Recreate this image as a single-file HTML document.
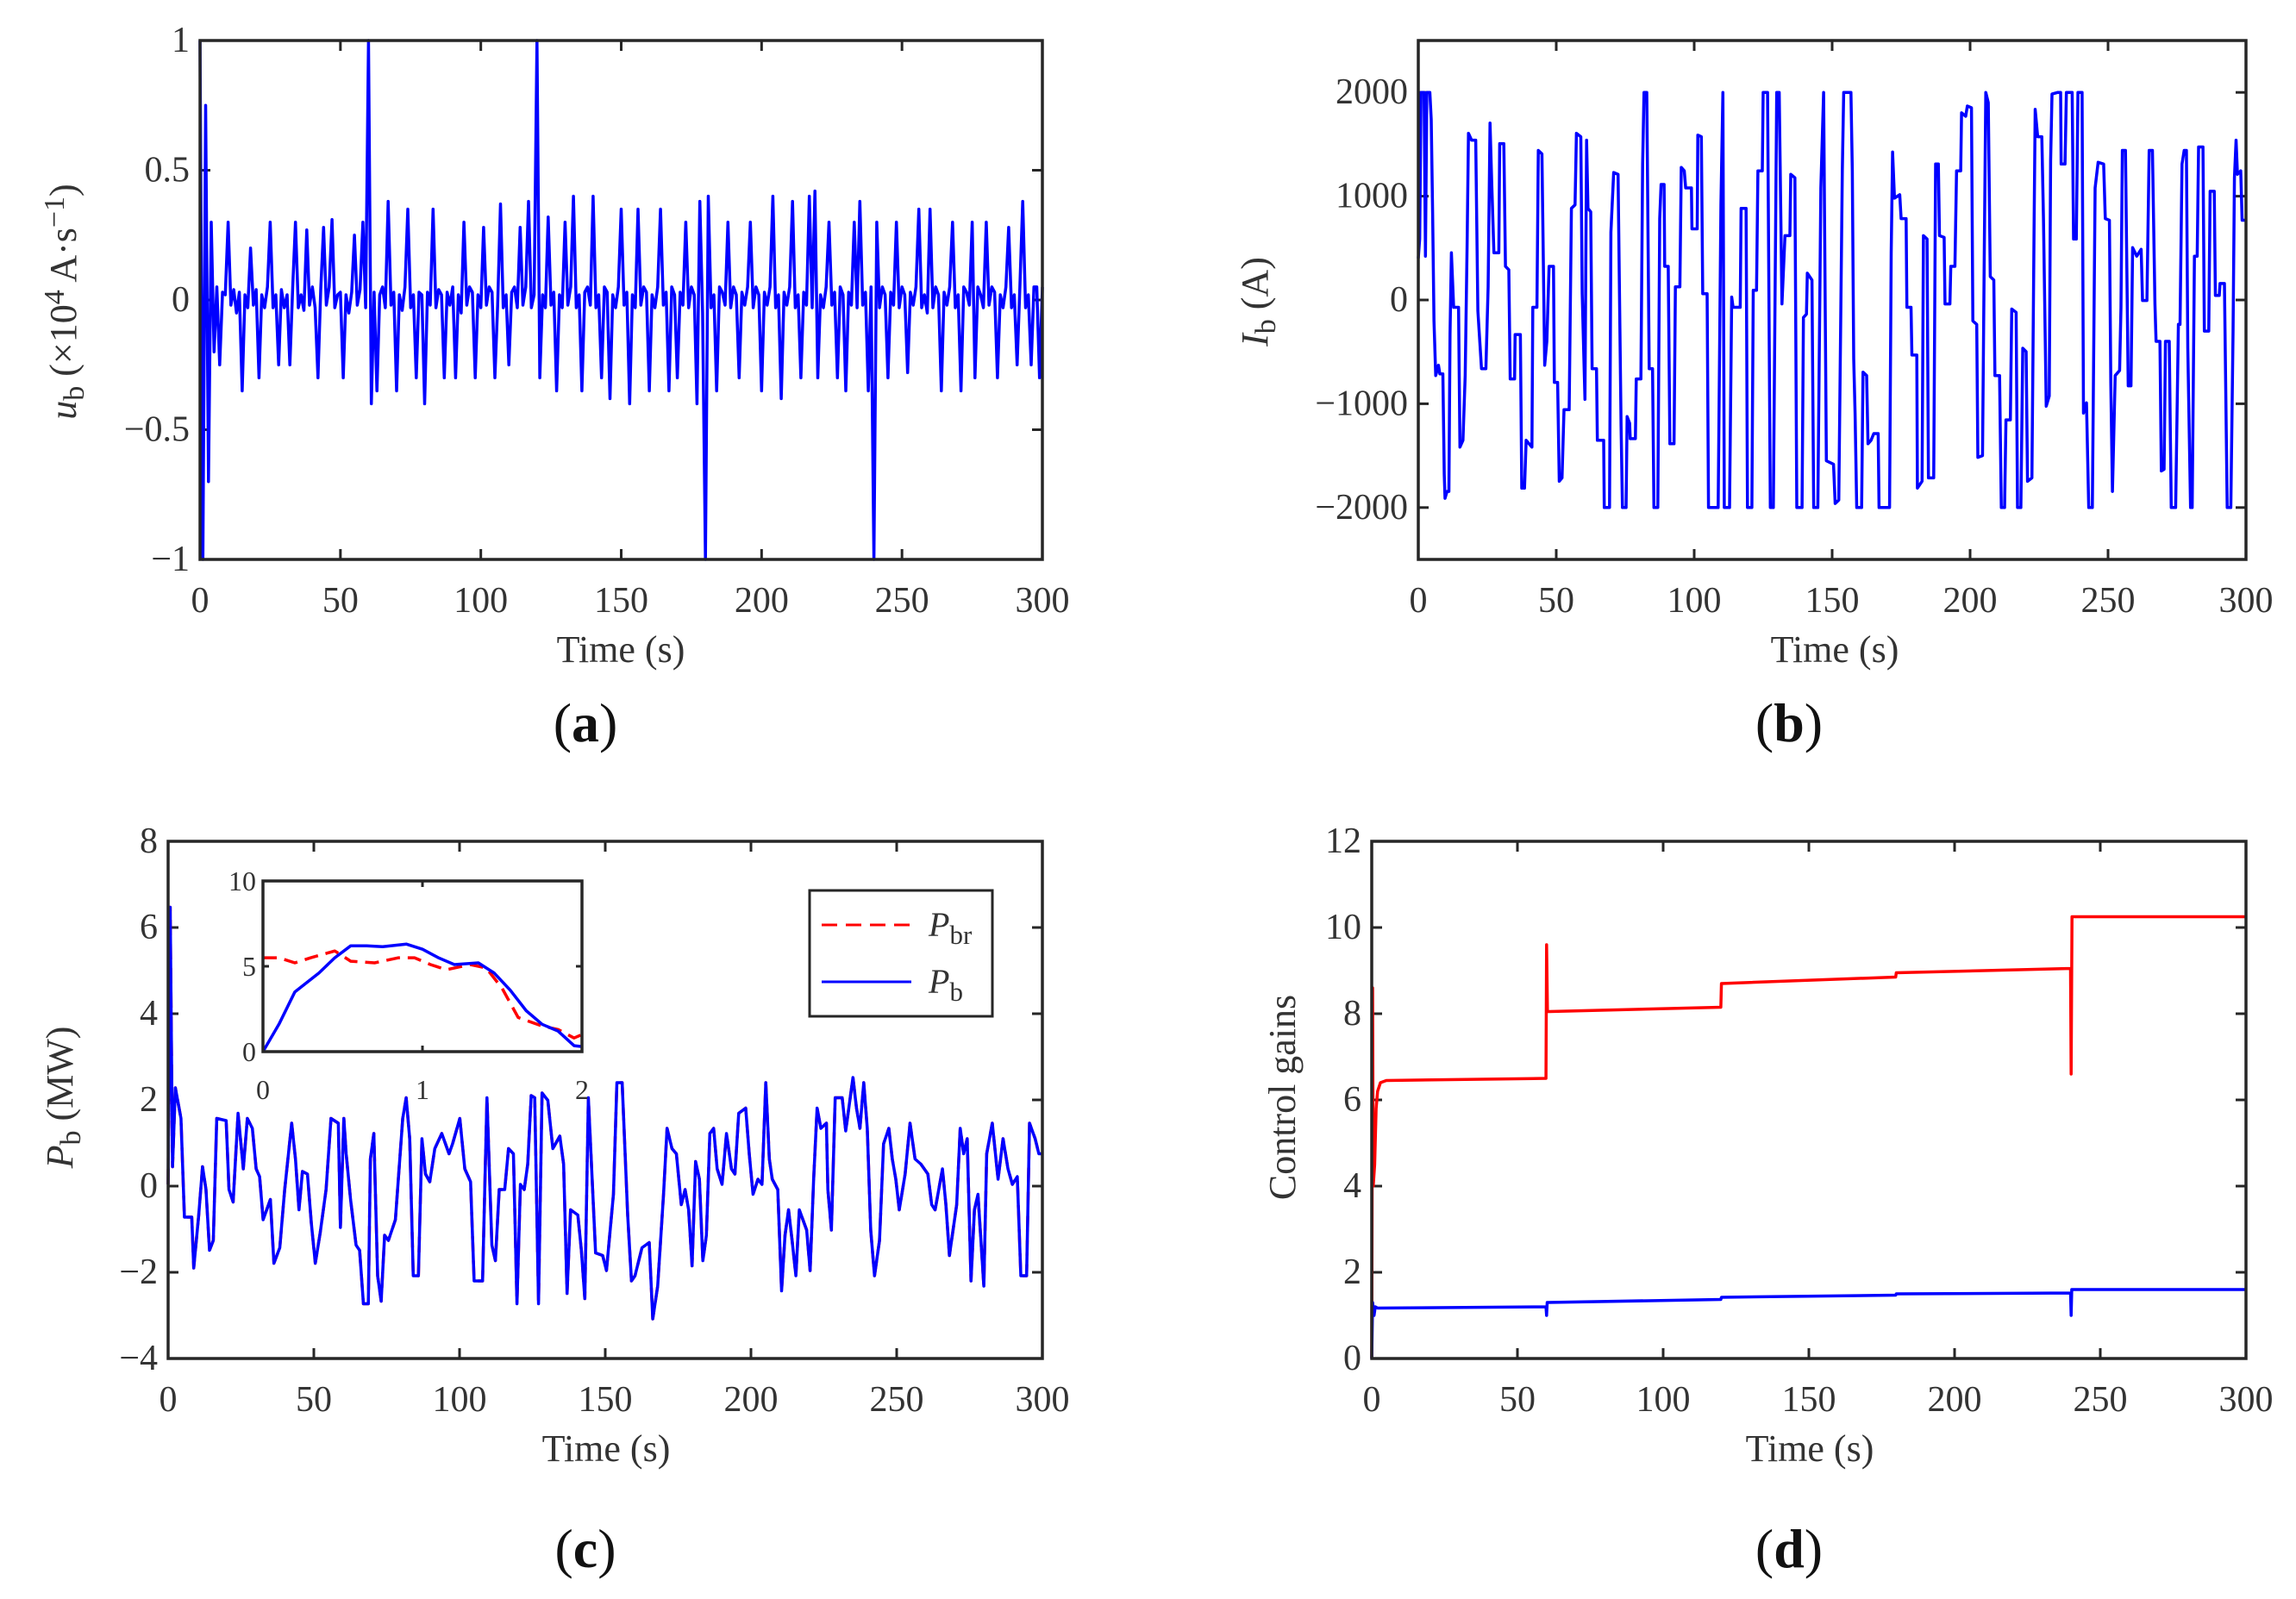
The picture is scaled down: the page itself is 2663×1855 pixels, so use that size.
<!DOCTYPE html>
<html><head><meta charset="utf-8">
<style>
html,body{margin:0;padding:0;background:#fff;}
svg{display:block;}
text{font-family:"Liberation Serif","DejaVu Serif",serif;fill:#333;}
</style></head>
<body>
<svg id="fig" xmlns="http://www.w3.org/2000/svg" width="2663" height="1855" viewBox="0 0 2663 1855">
<rect x="0" y="0" width="2663" height="1855" fill="#fff"/>
<text x="720" y="768" font-size="44" text-anchor="middle">Time (s)</text>
<text x="679" y="860" font-size="64" text-anchor="middle" style="fill:#111">(<tspan font-weight="bold">a</tspan>)</text>
<text transform="translate(88,350) rotate(-90)" font-size="44" text-anchor="middle"><tspan font-style="italic">u</tspan><tspan baseline-shift="-25%" font-size="34">b</tspan> (×10<tspan baseline-shift="40%" font-size="34">4</tspan> A·s<tspan baseline-shift="40%" font-size="34">−1</tspan>)</text>

<text x="2128" y="768" font-size="44" text-anchor="middle">Time (s)</text>
<text x="2075" y="860" font-size="64" text-anchor="middle" style="fill:#111">(<tspan font-weight="bold">b</tspan>)</text>
<text transform="translate(1470,350) rotate(-90)" font-size="44" text-anchor="middle"><tspan font-style="italic">I</tspan><tspan baseline-shift="-25%" font-size="34">b</tspan> (A)</text>

<text x="703" y="1695" font-size="44" text-anchor="middle">Time (s)</text>
<text x="679" y="1818" font-size="64" text-anchor="middle" style="fill:#111">(<tspan font-weight="bold">c</tspan>)</text>
<text transform="translate(84,1273) rotate(-90)" font-size="44" text-anchor="middle"><tspan font-style="italic">P</tspan><tspan baseline-shift="-25%" font-size="34">b</tspan> (MW)</text>

<text x="2099" y="1695" font-size="44" text-anchor="middle">Time (s)</text>
<text x="2075" y="1818" font-size="64" text-anchor="middle" style="fill:#111">(<tspan font-weight="bold">d</tspan>)</text>
<text transform="translate(1502,1273) rotate(-90)" font-size="44" text-anchor="middle">Control gains</text>
</svg>
<script>
// ---------- data ----------
const timeTicks = [0,50,100,150,200,250,300];
const ubTicks = [-1,-0.5,0,0.5,1];
const ubTickLabels = ["−1","−0.5","0","0.5","1"];
const ubVals = [1,-1,0.75,-0.7,0.3,-0.2,0.05,-0.25,0.03,0.02,
0.3,-0.02,0.04,-0.05,0.03,-0.35,0.02,-0.03,0.2,-0.02,
0.04,-0.3,0.02,-0.03,0.05,0.3,-0.03,0.02,-0.25,0.04,
-0.03,0.02,-0.25,0.05,0.3,-0.03,0.02,-0.04,0.27,-0.02,
0.05,-0.03,-0.3,0.04,0.28,-0.02,0.05,0.31,-0.03,0.02,
0.03,-0.3,0.02,-0.05,0.03,0.25,-0.02,0.04,0.3,-0.03,
1,-0.4,0.03,-0.35,0.02,0.05,-0.03,0.38,-0.02,0.03,
-0.35,0.02,-0.04,0.05,0.35,-0.03,0.02,-0.3,0.03,0.02,
-0.4,0.03,-0.02,0.35,-0.03,0.04,0.02,-0.3,0.03,-0.02,
0.05,-0.3,0.02,-0.05,0.3,-0.02,0.05,0.03,-0.3,0.02,
-0.03,0.28,-0.02,0.05,0.03,-0.3,-0.02,0.37,-0.03,0.02,
-0.25,0.03,0.05,-0.03,0.28,-0.02,0.05,0.38,-0.03,0.02,
1,-0.3,0.02,-0.03,0.32,-0.02,0.03,-0.35,0.02,-0.03,
0.3,-0.02,0.05,0.4,-0.03,0.02,-0.35,0.03,0.05,-0.02,
0.4,-0.03,0.02,-0.3,0.05,0.03,-0.38,0.02,-0.03,0.05,
0.35,-0.02,0.03,-0.4,0.02,-0.03,0.35,-0.02,0.05,0.03,
-0.35,0.02,-0.03,0.05,0.35,-0.02,0.03,-0.35,0.05,0.02,
-0.3,0.03,-0.02,0.3,-0.03,0.05,0.02,-0.4,0.38,-0.05,
-1,0.4,-0.03,0.02,-0.35,0.05,0.03,-0.02,0.3,-0.03,
0.05,0.02,-0.3,0.03,-0.02,0.05,0.3,-0.03,0.05,0.02,
-0.35,0.03,-0.02,0.05,0.4,-0.03,0.02,-0.38,0.03,-0.02,
0.05,0.38,-0.03,0.02,-0.3,0.03,-0.02,0.4,-0.03,0.42,
-0.3,0.02,-0.03,0.05,0.3,-0.02,0.03,-0.3,0.05,0.02,
-0.35,0.03,-0.02,0.3,-0.03,0.38,-0.02,0.03,-0.35,0.05,
-1,0.3,-0.03,0.05,0.02,-0.3,0.03,-0.02,0.3,-0.03,
0.05,0.02,-0.28,0.03,-0.02,0.05,0.35,-0.03,0.02,-0.05,
0.35,-0.03,0.05,0.02,-0.35,0.03,-0.02,0.05,0.3,-0.03,
0.02,-0.35,0.05,0.03,-0.02,0.3,-0.3,0.05,0.02,-0.03,
0.3,-0.02,0.05,0.03,-0.3,0.02,-0.03,0.05,0.28,-0.03,
0.02,-0.25,0.05,0.38,-0.03,0.02,-0.25,0.05,0.05,-0.3,0.05];

const ibTicks = [-2000,-1000,0,1000,2000];
const ibTickLabels = ["−2000","−1000","0","1000","2000"];
const ibTime = [0,0.5,1.0,2.1,2.6,3.1,4.2,4.7,5.2,5.7,6.3,7.3,7.8,8.9,9.4,9.7,10.4,11.1,11.5,12.0,12.8,14.6,15.1,16.2,17.0,17.7,18.2,19.3,20.8,21.6,22.9,24.5,25.3,26.0,26.6,27.4,29.2,29.5,31.0,31.6,32.8,33.3,34.9,35.1,37.0,37.5,38.5,39.1,41.2,41.5,43.0,43.5,44.8,45.8,46.6,47.4,49.0,49.3,50.5,51.1,52.1,52.8,54.7,55.5,56.8,57.3,58.9,59.4,60.4,61.0,61.5,62.5,63.0,64.6,64.9,67.2,67.4,69.3,69.8,70.8,72.4,73.5,74.0,75.3,75.7,76.6,76.8,78.7,79.0,80.7,81.3,81.8,82.8,83.7,84.9,85.4,86.8,87.5,88.0,89.1,89.3,90.6,91.2,92.7,93.2,94.8,95.3,96.4,96.9,99.0,99.2,101.1,101.3,102.6,103.1,104.7,105.2,108.7,109.7,110.4,110.9,112.8,113.6,114.1,116.7,117.0,118.8,119.3,120.9,121.4,122.6,123.1,124.7,125.0,126.6,127.6,128.7,129.9,130.8,131.8,132.9,134.7,135.0,136.5,137.2,139.1,139.6,140.7,141.0,142.7,143.3,144.8,145.9,146.9,147.9,150.5,151.1,152.4,153.7,154.2,156.8,157.3,157.8,158.3,158.9,160.7,161.2,162.5,163.0,164.1,165.1,166.7,167.0,170.8,171.4,171.9,172.6,174.5,175.0,176.8,177.1,178.6,178.9,180.7,180.9,182.6,183.1,184.4,184.9,186.8,187.5,188.5,188.9,190.6,190.9,192.7,193.0,194.5,195.1,196.6,196.9,198.4,199.0,200.5,201.0,202.4,202.8,204.5,205.2,205.7,206.6,207.3,208.6,209.0,210.7,211.3,212.5,213.0,214.6,215.1,216.7,217.2,218.4,219.1,220.3,220.8,222.4,223.2,223.6,224.5,226.0,226.6,227.6,228.7,229.2,229.7,231.8,232.8,233.0,234.4,234.9,237.0,237.5,238.5,239.1,240.6,241.1,242.2,243.0,244.3,245.3,246.4,248.4,249.0,250.5,251.0,251.6,252.6,254.2,254.7,255.2,256.3,257.3,258.3,258.9,260.4,262.0,262.5,264.1,264.9,266.1,267.0,267.4,268.8,269.3,270.3,270.8,272.2,272.9,274.5,275.5,276.1,276.8,277.6,278.4,278.9,279.9,280.5,281.3,282.3,282.8,284.4,284.9,286.5,287.0,288.5,288.9,290.3,290.6,292.2,292.7,293.2,294.5,295.3,295.8,296.4,296.9,298.1,298.6,300];
const ibVals = [400,587,2000,2000,422,2000,2000,1737,850,-202,-728,-629,-712,-712,-1681,-1911,-1845,-1845,-333,455,-71,-71,-1418,-1352,-728,521,1606,1540,1540,-104,-662,-662,127,1704,1146,455,455,1507,1507,324,291,-761,-761,-333,-333,-1813,-1813,-1352,-1418,-71,-71,1441,1408,-629,-399,324,324,-794,-794,-1747,-1714,-1057,-1057,883,916,1606,1573,61,-958,1540,883,850,-662,-662,-1352,-1352,-2000,-2000,653,1228,1211,-1221,-2000,-2000,-1123,-1188,-1336,-1336,-761,-761,1310,2000,2000,-662,-662,-2000,-2000,784,1113,1113,324,324,-1385,-1385,127,127,1277,1244,1080,1080,685,685,1589,1573,61,61,-2000,-2000,916,2000,-2000,-2000,28,-71,-71,883,883,-2000,-2000,94,94,1244,1244,2000,2000,-2000,-2000,2000,2000,-38,620,620,1211,1178,-2000,-2000,-169,-136,258,192,-2000,-2000,1080,2000,-1550,-1583,-1961,-1928,1244,2000,2000,1244,-564,-1090,-2000,-2000,-695,-728,-1385,-1352,-1287,-1287,-2000,-2000,455,1425,981,1014,784,784,-71,-71,-531,-531,-1813,-1747,620,587,-1714,-1714,1310,1310,620,603,-38,-38,324,324,1244,1244,1803,1770,1869,1852,-202,-235,-1517,-1500,587,2000,1902,225,192,-728,-728,-2000,-2000,-1155,-1155,-87,-120,-2000,-2000,-465,-498,-1747,-1714,685,1836,1573,1573,784,-1024,-925,1343,1984,2000,2000,1310,1310,2000,2000,587,587,2000,2000,-1090,-991,-2000,-2000,1080,1326,1310,784,768,-794,-1845,-728,-679,-71,1441,1441,-827,-827,505,422,488,-5,-5,1441,1441,-38,-399,-399,-1648,-1632,-399,-399,-2000,-2000,-235,-235,1310,1441,1441,-465,-2000,-2000,422,422,1474,1474,-300,-300,1047,1047,44,44,159,159,-925,-2000,-2000,-300,1178,1540,1211,1244,768,768];

const pbTicks = [-4,-2,0,2,4,6,8];
const pbTickLabels = ["−4","−2","0","2","4","6","8"];
const pbTime = [0,0.7,1.5,2.5,4.4,5.6,8.1,8.8,10.5,11.8,13.0,14.2,15.5,16.7,19.9,20.9,22.3,24.0,25.8,27.2,28.9,30.2,31.4,32.6,35.1,36.3,38.3,40.0,42.4,43.7,44.9,46.1,47.8,49.1,50.5,52.2,54.2,55.9,58.4,59.1,60.3,61.1,62.6,64.5,65.7,67.0,68.7,69.4,70.6,71.9,73.1,74.3,75.6,78.0,80.5,81.7,82.9,84.1,85.9,87.1,88.3,89.8,91.5,93.9,96.4,97.6,100.1,101.8,103.8,105.0,107.9,109.4,111.1,112.3,113.6,115.5,116.8,118.5,119.7,120.9,122.2,123.4,124.6,125.8,127.1,128.3,130.3,132.0,134.4,135.7,136.9,138.1,140.6,141.8,143.0,144.2,145.5,146.7,149.1,150.4,152.8,154.0,155.8,157.7,159.0,160.2,162.6,165.1,166.3,168.0,170.0,171.2,172.9,174.4,176.1,177.4,178.6,179.8,181.0,182.3,183.5,184.7,185.9,187.2,188.4,190.1,191.6,193.3,194.5,195.8,198.2,199.4,200.7,202.4,203.8,205.1,206.3,207.3,209.2,210.5,211.7,212.9,214.1,215.4,216.6,219.1,220.3,221.5,222.7,224.0,225.9,226.4,227.6,228.9,231.3,232.5,235.0,236.2,237.4,238.7,239.9,241.1,242.4,244.1,245.5,247.3,248.5,249.7,250.9,252.9,254.6,256.3,258.3,260.7,262.0,263.2,265.7,266.9,268.1,270.6,271.8,273.0,274.2,275.5,276.7,277.9,279.9,280.9,282.8,284.8,286.5,288.2,289.7,291.4,292.6,294.6,295.6,297.5,298.8,300];
const pbVals = [0.04,6.47,0.45,2.28,1.57,-0.72,-0.72,-1.90,-0.67,0.45,-0.08,-1.49,-1.26,1.57,1.52,-0.08,-0.37,1.69,0.40,1.57,1.34,0.40,0.22,-0.78,-0.31,-1.79,-1.43,-0.08,1.46,0.63,-0.55,0.34,0.28,-0.84,-1.79,-1.08,-0.08,1.57,1.46,-0.96,1.57,0.75,-0.31,-1.37,-1.49,-2.73,-2.73,0.63,1.22,-2.08,-2.67,-1.14,-1.26,-0.78,1.57,2.05,1.10,-2.08,-2.08,1.10,0.28,0.10,0.87,1.22,0.75,0.98,1.57,0.40,0.10,-2.20,-2.20,2.05,-1.37,-1.73,-0.08,-0.08,0.87,0.75,-2.73,0.04,-0.08,0.51,2.10,2.05,-2.73,2.16,1.99,0.87,1.16,0.51,-2.49,-0.55,-0.67,-1.49,-2.61,2.05,0.16,-1.55,-1.61,-1.96,-0.19,2.40,2.40,-0.67,-2.20,-2.08,-1.43,-1.31,-3.08,-2.32,-0.19,1.34,0.87,0.75,-0.43,-0.08,-0.55,-1.85,0.57,0.16,-1.73,-1.14,1.22,1.34,0.40,0.04,1.22,0.40,0.28,1.69,1.81,0.75,-0.19,0.16,0.04,2.40,0.63,0.16,-0.08,-2.43,-1.14,-0.55,-1.26,-2.08,-0.55,-1.02,-1.96,0.16,1.81,1.34,1.46,-0.08,-1.02,2.05,2.05,1.28,2.52,1.81,1.34,2.40,1.34,-1.02,-2.08,-1.26,0.98,1.34,0.63,0.16,-0.55,0.28,1.46,0.63,0.51,0.28,-0.43,-0.55,0.40,-0.43,-1.61,-0.43,1.34,0.75,1.10,-2.20,-0.55,-0.19,-2.32,0.75,1.46,0.16,1.10,0.40,0.04,0.22,-2.08,-2.08,1.46,1.10,0.75,0.75];
const pbrTime = pbTime;
const pbrVals = pbVals;

const insetTicksX = [0,1,2];
const insetTicksY = [0,5,10];
const insetBTime = [0,0.1,0.2,0.35,0.45,0.55,0.65,0.75,0.9,1.0,1.1,1.2,1.35,1.45,1.55,1.65,1.75,1.85,1.95,2.0];
const insetBVals = [0,1.6,3.5,4.6,5.5,6.2,6.2,6.15,6.3,6.0,5.5,5.1,5.2,4.6,3.6,2.4,1.6,1.2,0.35,0.3];
const insetRTime = [0,0.1,0.2,0.3,0.45,0.55,0.7,0.85,0.95,1.05,1.15,1.3,1.4,1.5,1.6,1.75,1.85,1.95,2.0];
const insetRVals = [5.5,5.5,5.2,5.5,5.9,5.3,5.2,5.5,5.5,5.1,4.8,5.1,4.9,3.7,2.0,1.5,1.3,0.8,1.0];

const gainTicks = [0,2,4,6,8,10,12];
const gainTickLabels = ["0","2","4","6","8","10","12"];
const gain1Time = [0,0.3,0.5,1,1.5,2,3,5,59.8,60,60.3,61,119.8,120,179.8,180,239.8,240,240.3,241,300];
const gain1Vals = [0,8.6,4,4.5,5.8,6.2,6.4,6.45,6.5,9.6,8.05,8.05,8.15,8.7,8.85,8.95,9.05,6.6,10.25,10.25,10.25];
const gain2Time = [0,0.3,0.8,1.2,2,59.8,60,60.2,119.8,120,179.8,180,239.8,240,240.2,300];
const gain2Vals = [0,1.3,1.0,1.2,1.17,1.2,1.0,1.3,1.37,1.42,1.47,1.5,1.52,1.0,1.6,1.6];

// ---------- drawing ----------
const NS = 'http://www.w3.org/2000/svg';
const svg = document.getElementById('fig');
function el(tag, attrs, parent){
  const e = document.createElementNS(NS, tag);
  for (const k in attrs) e.setAttribute(k, attrs[k]);
  (parent || svg).appendChild(e);
  return e;
}
function makeAxes(c){
  c.sx = v => c.x0 + (v - c.xmin) / (c.xmax - c.xmin) * (c.x1 - c.x0);
  c.sy = v => c.y1 - (v - c.ymin) / (c.ymax - c.ymin) * (c.y1 - c.y0);
  const g = el('g', {});
  
  
  const tl = c.tick || 12;
  c.xticks.forEach((v, i) => {
    const x = c.sx(v);
    el('line', {x1:x, y1:c.y1, x2:x, y2:c.y1 - tl, stroke:'#262626', 'stroke-width':3}, g);
    el('line', {x1:x, y1:c.y0, x2:x, y2:c.y0 + tl, stroke:'#262626', 'stroke-width':3}, g);
    const t = el('text', {x:x, y:c.y1 + c.xlabOff, 'font-size':c.fs, 'text-anchor':'middle', 'dominant-baseline':'central'}, g);
    t.textContent = c.xlabels[i];
    
    
  });
  c.yticks.forEach((v, i) => {
    const y = c.sy(v);
    el('line', {x1:c.x0, y1:y, x2:c.x0 + tl, y2:y, stroke:'#262626', 'stroke-width':3}, g);
    el('line', {x1:c.x1, y1:y, x2:c.x1 - tl, y2:y, stroke:'#262626', 'stroke-width':3}, g);
    const t = el('text', {x:c.x0 - c.ylabOff, y:y, 'font-size':c.fs, 'text-anchor':'end', 'dominant-baseline':'central'}, g);
    t.textContent = c.ylabels[i];
    
    
  });
  return c;
}
function frame(c){
  const r = el('rect', {x:c.x0, y:c.y0, width:c.x1 - c.x0, height:c.y1 - c.y0, fill:'none', stroke:'#262626', 'stroke-width':3.5});
  
  
}
function series(c, ts, vs, color, name, dash, clip){
  const pts = ts.map((t, i) => {
    let v = vs[i];
    if (clip) v = Math.max(c.ymin, Math.min(c.ymax, v));
    return c.sx(t).toFixed(1) + ',' + c.sy(v).toFixed(1);
  }).join(' ');
  const p = el('polyline', {points:pts, fill:'none', stroke:color, 'stroke-width':3.5, 'stroke-linejoin':'round'});
  if (dash) p.setAttribute('stroke-dasharray', dash);
  
  
  return p;
}
const tlab = timeTicks.map(String);

// Panel a
const A = makeAxes({name:'panel-a', x0:232, x1:1209, y0:47, y1:649, xmin:0, xmax:300, ymin:-1, ymax:1,
  xticks:timeTicks, xlabels:tlab, yticks:ubTicks, ylabels:ubTickLabels, fs:42, xlabOff:48, ylabOff:12});
series(A, ubVals.map((v, i) => i), ubVals, '#0000ff', 'ub-line', null, true);
frame(A);

// Panel b
const B = makeAxes({name:'panel-b', x0:1645, x1:2605, y0:47, y1:649, xmin:0, xmax:300, ymin:-2500, ymax:2500,
  xticks:timeTicks, xlabels:tlab, yticks:ibTicks, ylabels:ibTickLabels, fs:42, xlabOff:48, ylabOff:12});
series(B, ibTime, ibVals, '#0000ff', 'ib-line', null, true);
frame(B);

// Panel c
const C = makeAxes({name:'panel-c', x0:195, x1:1209, y0:976, y1:1576, xmin:0, xmax:300, ymin:-4, ymax:8,
  xticks:timeTicks, xlabels:tlab, yticks:pbTicks, ylabels:pbTickLabels, fs:42, xlabOff:48, ylabOff:12});
series(C, pbrTime, pbrVals, '#ff0000', 'pbr-line', '18,10', true);
series(C, pbTime, pbVals, '#0000ff', 'pb-line', null, true);
frame(C);

// inset
const ib = el('rect', {x:305, y:1022, width:370, height:198, fill:'#fff'});


const I = makeAxes({name:'inset', x0:305, x1:675, y0:1022, y1:1220, xmin:0, xmax:2, ymin:0, ymax:10,
  xticks:insetTicksX, xlabels:insetTicksX.map(String), yticks:insetTicksY, ylabels:insetTicksY.map(String), fs:32, xlabOff:44, ylabOff:8, tick:7});
series(I, insetRTime, insetRVals, '#ff0000', 'inset-pbr-line', '16,9', true);
series(I, insetBTime, insetBVals, '#0000ff', 'inset-pb-line', null, true);
frame(I);

// legend
const lg = el('g', {});


el('rect', {x:939, y:1033, width:212, height:146, fill:'#fff', stroke:'#262626', 'stroke-width':3}, lg);
el('line', {x1:953, y1:1073, x2:1057, y2:1073, stroke:'#ff0000', 'stroke-width':3, 'stroke-dasharray':'18,10'}, lg);
el('line', {x1:953, y1:1139, x2:1057, y2:1139, stroke:'#0000ff', 'stroke-width':3}, lg);
const l1 = el('text', {x:1077, y:1086, 'font-size':40}, lg);
l1.innerHTML = '<tspan font-style="italic">P</tspan><tspan baseline-shift="-30%" font-size="31">br</tspan>';


const l2 = el('text', {x:1077, y:1152, 'font-size':40}, lg);
l2.innerHTML = '<tspan font-style="italic">P</tspan><tspan baseline-shift="-30%" font-size="31">b</tspan>';



// Panel d
const D = makeAxes({name:'panel-d', x0:1591, x1:2605, y0:976, y1:1576, xmin:0, xmax:300, ymin:0, ymax:12,
  xticks:timeTicks, xlabels:tlab, yticks:gainTicks, ylabels:gainTickLabels, fs:42, xlabOff:48, ylabOff:12});
series(D, gain1Time, gain1Vals, '#ff0000', 'gain-red-line', null, true);
series(D, gain2Time, gain2Vals, '#0000ff', 'gain-blue-line', null, true);
frame(D);
</script>
</body></html>
